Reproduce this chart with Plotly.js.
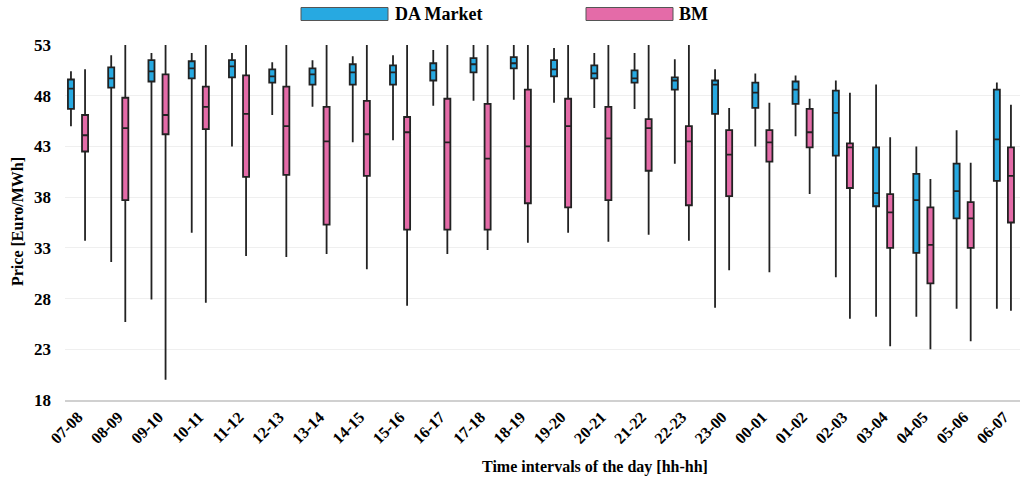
<!DOCTYPE html>
<html>
<head>
<meta charset="utf-8">
<script src="https://cdn.plot.ly/plotly-3.0.1.min.js"></script>
<style>html,body{margin:0;padding:0;background:#fff}#chart{width:1024px;height:485px}</style>
</head>
<body>
<div id="chart"></div>
<script>
const categories = ['07-08','08-09','09-10','10-11','11-12','12-13','13-14','14-15','15-16','16-17','17-18','18-19','19-20','20-21','21-22','22-23','23-00','00-01','01-02','02-03','03-04','04-05','05-06','06-07'];

const daMin = [45.0,31.6,27.9,34.5,43.0,46.1,46.9,43.4,43.6,47.0,47.5,47.6,47.3,46.8,46.7,41.3,27.1,43.0,44.0,30.1,26.2,26.2,27.0,27.0];
const daQ1  = [46.7,48.8,49.4,49.7,49.8,49.3,49.1,49.1,49.1,49.5,50.3,50.7,49.9,49.7,49.3,48.6,46.2,46.8,47.2,42.1,37.1,32.5,35.9,39.6];
const daMed = [48.7,49.7,50.4,50.7,50.9,49.9,50.1,50.3,50.3,50.5,51.1,51.2,50.6,50.2,49.7,49.5,49.1,48.3,48.6,46.3,38.4,37.7,38.6,43.7];
const daQ3  = [49.6,50.8,51.5,51.4,51.5,50.6,50.7,51.1,51.0,51.2,51.7,51.8,51.5,51.0,50.5,49.8,49.5,49.3,49.4,48.5,42.9,40.3,41.3,48.6];
const daMax = [50.4,52.0,52.2,52.2,52.2,51.3,51.5,51.9,52.0,52.5,53.5,53.5,52.7,52.2,52.2,51.6,50.6,50.2,50.0,49.5,49.1,43.0,44.6,49.3];

const bmMin = [33.7,25.7,20.0,27.6,32.2,32.1,32.4,30.9,27.3,32.4,32.8,33.5,34.5,33.6,34.3,33.7,30.8,30.6,38.3,26.0,23.3,23.0,23.8,26.8];
const bmQ1  = [42.5,37.7,44.2,44.7,40.0,40.2,35.3,40.1,34.8,34.8,34.8,37.4,37.0,37.7,40.6,37.2,38.1,41.5,42.9,38.9,33.0,29.5,33.0,35.5];
const bmMed = [44.1,44.8,46.1,46.9,46.2,45.0,43.5,44.2,44.4,43.4,41.8,43.0,45.0,43.8,44.8,43.5,42.2,43.4,44.4,42.9,36.5,33.3,35.9,40.1];
const bmQ3  = [46.1,47.8,50.1,48.9,50.0,48.9,46.9,47.5,45.9,47.7,47.2,48.6,47.7,46.9,45.7,45.0,44.6,44.6,46.7,43.3,38.3,37.0,37.5,42.9];
const bmMax = [50.6,56,56,56,56,56,56,56,56,56,56,56,56,56,56,56,46.8,47.3,47.7,48.3,43.9,39.8,41.4,47.1];

const yTicks = [18,23,28,33,38,43,48,53];

const seriesNames = ['DA Market','BM'];
const seriesColors = ['#27a9e1','#e46ba8'];

const FONT = 'Liberation Serif, Times New Roman, serif';

const L = 65, R = 4, T = 45, B = 85, W = 1024, H = 485;
const pw = W - L - R;
const px = v => (v - L) / pw;
const py = v => 1 - (v - T) / (H - T - B);

const traces = [
  {type:'box', name:seriesNames[0], x:categories, q1:daQ1, median:daMed, q3:daQ3, lowerfence:daMin, upperfence:daMax,
   fillcolor:seriesColors[0], line:{color:'#222', width:1.8}, whiskerwidth:0, showlegend:false, hoverinfo:'y'},
  {type:'box', name:seriesNames[1], x:categories, q1:bmQ1, median:bmMed, q3:bmQ3, lowerfence:bmMin, upperfence:bmMax,
   fillcolor:seriesColors[1], line:{color:'#222', width:1.8}, whiskerwidth:0, showlegend:false, hoverinfo:'y'}
];

const layout = {
  width: W, height: H,
  margin: {l:L, r:R, t:T, b:B},
  paper_bgcolor:'#fff', plot_bgcolor:'#fff',
  boxmode:'group', boxgap:0.3, boxgroupgap:0.57,
  font:{family:FONT, color:'#000'},
  xaxis:{
    type:'category', range:[-0.323, 23.4],
    tickangle:-45, tickfont:{family:FONT, size:16, color:'#000', weight:'bold'},
    showgrid:false, showline:true, linecolor:'#d0d0d0', linewidth:1.5, ticks:'', zeroline:false
  },
  yaxis:{
    range:[18,53], tickvals:yTicks, ticktext:yTicks.map(String),
    tickfont:{family:FONT, size:17, color:'#000', weight:'bold'},
    showgrid:true, gridcolor:'#efefef', gridwidth:1, zeroline:false, showline:false, ticks:'', ticklabelstandoff:13
  },
  shapes:[
    {type:'rect', xref:'paper', yref:'paper', x0:px(301), x1:px(388), y0:py(20.5), y1:py(7.5), fillcolor:seriesColors[0], line:{color:'#555', width:1}},
    {type:'rect', xref:'paper', yref:'paper', x0:px(586), x1:px(673), y0:py(20.5), y1:py(7.5), fillcolor:seriesColors[1], line:{color:'#555', width:1}}
  ],
  annotations:[
    {xref:'paper', yref:'paper', x:px(393), y:py(14), xanchor:'left', yanchor:'middle', showarrow:false, text:'<b>'+seriesNames[0]+'</b>', font:{family:FONT, size:18, color:'#000'}},
    {xref:'paper', yref:'paper', x:px(677), y:py(14), xanchor:'left', yanchor:'middle', showarrow:false, text:'<b>'+seriesNames[1]+'</b>', font:{family:FONT, size:18, color:'#000'}},
    {xref:'paper', yref:'paper', x:px(595), y:py(467), xanchor:'center', yanchor:'middle', showarrow:false, text:'<b>Time intervals of the day [hh-hh]</b>', font:{family:FONT, size:16, color:'#000'}},
    {xref:'paper', yref:'paper', x:px(17), y:py(222), xanchor:'center', yanchor:'middle', showarrow:false, textangle:-90, text:'<b>Price [Euro/MWh]</b>', font:{family:FONT, size:16, color:'#000'}}
  ]
};

Plotly.newPlot('chart', traces, layout, {displayModeBar:false, staticPlot:true});
</script>
</body>
</html>
